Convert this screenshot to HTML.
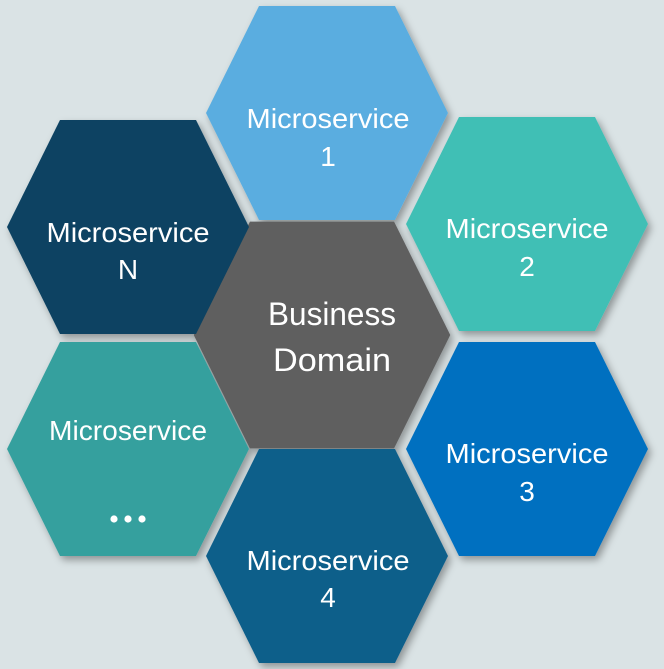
<!DOCTYPE html>
<html><head><style>html,body{margin:0;padding:0;background:#dae3e5;}svg{display:block}</style></head>
<body>
<svg width="664" height="669" viewBox="0 0 664 669" xmlns="http://www.w3.org/2000/svg">
<defs>
<filter id="s" x="-20%" y="-20%" width="150%" height="150%">
<feDropShadow dx="3" dy="4" stdDeviation="4" flood-color="#000" flood-opacity="0.35"/>
</filter>
<polygon id="h" points="-121,0 -68,-107 68,-107 121,0 68,107 -68,107"/>
</defs>
<rect width="664" height="669" fill="#dae3e5"/>
<g filter="url(#s)">
<use href="#h" transform="translate(322,335) scale(1.06)" fill="#5f5f5f"/>
<use href="#h" transform="translate(327,113)" fill="#5aade0"/>
<use href="#h" transform="translate(128,227)" fill="#084262"/>
<use href="#h" transform="translate(527,224)" fill="#41bfb5"/>
<use href="#h" transform="translate(128,449)" fill="#36a09e"/>
<use href="#h" transform="translate(527,449)" fill="#0070c0"/>
<use href="#h" transform="translate(327,556)" fill="#0d5e8a"/>
</g>
<g font-family="Liberation Sans, sans-serif" fill="#fff" font-size="28" text-anchor="middle">
<text x="328" y="128" textLength="163" lengthAdjust="spacingAndGlyphs">Microservice</text>
<text x="328" y="166">1</text>
<text x="128" y="242" textLength="163" lengthAdjust="spacingAndGlyphs">Microservice</text>
<text x="128" y="279">N</text>
<text x="527" y="238" textLength="163" lengthAdjust="spacingAndGlyphs">Microservice</text>
<text x="527" y="276">2</text>
<text x="128" y="440" textLength="158" lengthAdjust="spacingAndGlyphs">Microservice</text>
<text x="527" y="463" textLength="163" lengthAdjust="spacingAndGlyphs">Microservice</text>
<text x="527" y="501">3</text>
<text x="328" y="570" textLength="163" lengthAdjust="spacingAndGlyphs">Microservice</text>
<text x="328" y="607">4</text>
<text x="332" y="325" font-size="32" textLength="128" lengthAdjust="spacingAndGlyphs">Business</text>
<text x="332" y="371" font-size="32" textLength="118" lengthAdjust="spacingAndGlyphs">Domain</text>
</g>
<g fill="#fff"><circle cx="114" cy="519" r="3.6"/><circle cx="128" cy="519" r="3.6"/><circle cx="142" cy="519" r="3.6"/></g>
</svg>
</body></html>
